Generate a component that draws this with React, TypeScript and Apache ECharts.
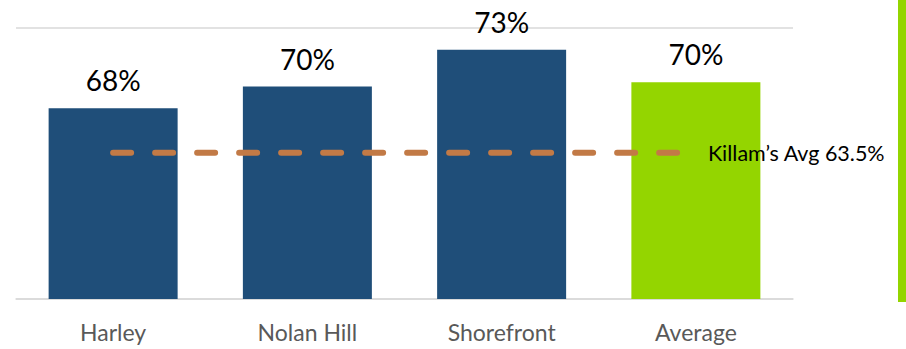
import React, { useEffect, useRef } from "react";
import * as echarts from "echarts";

const categories = ["Harley", "Nolan Hill", "Shorefront", "Average"];
const occupancy = [67.6, 69.6, 73.0, 70.0];
const killamAvg = [63.5, 63.5, 63.5, 63.5];
const killamLabel = "Killam\u2019s Avg 63.5%";
const barColors = ["#1F4E79", "#1F4E79", "#1F4E79", "#94D500"];

export default function App() {
  const ref = useRef<HTMLDivElement>(null);
  useEffect(() => {
    if (!ref.current) return;
    const chart = echarts.init(ref.current, undefined, { renderer: "svg" });
    const font = "Lato, 'Open Sans', sans-serif";
    chart.setOption({
      animation: false,
      backgroundColor: "#ffffff",
      grid: { left: 16, right: 113, top: 28, bottom: 50 },
      xAxis: {
        type: "category",
        data: categories,
        axisLine: { show: true, lineStyle: { color: "#D9D9D9", width: 1.5 } },
        axisTick: { show: false },
        axisLabel: { color: "#595959", fontSize: 23, fontFamily: font, margin: 21 },
      },
      yAxis: {
        type: "value",
        min: 50,
        max: 75,
        interval: 25,
        axisLabel: { show: false },
        axisLine: { show: false },
        axisTick: { show: false },
        splitLine: { show: true, lineStyle: { color: "#D9D9D9", width: 1.5 } },
      },
      series: [
        {
          type: "bar",
          barWidth: 129,
          data: occupancy.map((v, i) => ({ value: v, itemStyle: { color: barColors[i] } })),
          label: {
            show: true,
            position: "top",
            distance: 14,
            color: "#000000",
            fontSize: 28,
            fontFamily: font,
            formatter: (p: any) => Math.round(p.value) + "%",
          },
        },
        {
          type: "line",
          data: killamAvg,
          symbol: "none",
          lineStyle: { color: "#C27A46", width: 6, type: [18, 24], cap: "round" },
          endLabel: {
            show: true,
            formatter: () => killamLabel,
            color: "#000000",
            fontSize: 21.5,
            fontFamily: font,
            distance: 12,
          },
          z: 5,
        },
      ],
      graphic: [
        {
          type: "rect",
          shape: { x: 898, y: 0, width: 8, height: 302 },
          style: { fill: "#94D500" },
        },
      ],
    });
    return () => chart.dispose();
  }, []);
  return (
    <div
      ref={ref}
      style={{ position: "fixed", left: 0, top: 0, width: 906, height: 349 }}
    />
  );
}
